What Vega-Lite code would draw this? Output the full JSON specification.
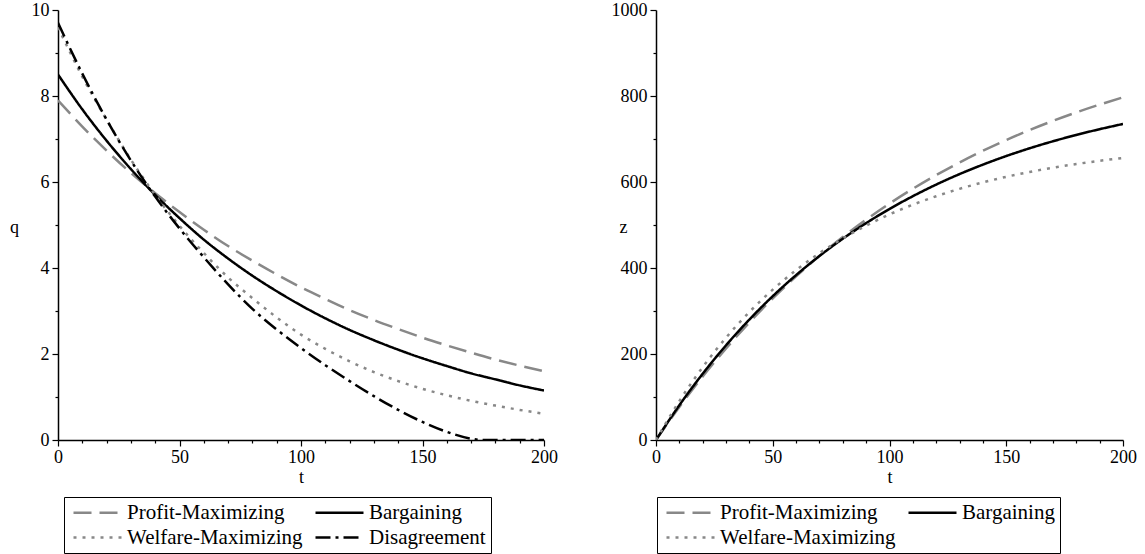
{
  "$schema": "https://vega.github.io/schema/vega-lite/v6.json",
  "padding": {"left": 9, "top": 1, "right": 5, "bottom": 0},
  "spacing": 53,
  "config": {
    "font": "'Liberation Serif'",
    "view": {"stroke": null},
    "axis": {"domainColor": "black", "domainWidth": 1.5, "tickColor": "black", "tickWidth": 1.2, "labelColor": "black", "labelFontSize": 18, "titleFontSize": 18, "titleFontWeight": "normal", "titleColor": "black", "grid": false, "labelFont": "'Liberation Serif'", "titleFont": "'Liberation Serif'", "labelOverlap": false, "labelFlush": false},
    "legend": {"labelFont": "'Liberation Serif'", "labelFontSize": 21, "labelColor": "black", "labelLimit": 0, "strokeColor": "black", "padding": 5, "rowPadding": 3, "columnPadding": 7, "labelOffset": 37, "symbolType": "M-1,0H7", "symbolSize": 144, "symbolStrokeWidth": 2.5}
  },
  "datasets": {
    "q": [
      {"t": 0, "s": "Profit-Maximizing", "v": 7.90}, {"t": 10, "s": "Profit-Maximizing", "v": 7.29}, {"t": 20, "s": "Profit-Maximizing", "v": 6.73}, {"t": 30, "s": "Profit-Maximizing", "v": 6.21}, {"t": 40, "s": "Profit-Maximizing", "v": 5.74}, {"t": 50, "s": "Profit-Maximizing", "v": 5.30}, {"t": 60, "s": "Profit-Maximizing", "v": 4.89}, {"t": 70, "s": "Profit-Maximizing", "v": 4.51}, {"t": 80, "s": "Profit-Maximizing", "v": 4.17}, {"t": 90, "s": "Profit-Maximizing", "v": 3.85}, {"t": 100, "s": "Profit-Maximizing", "v": 3.55}, {"t": 110, "s": "Profit-Maximizing", "v": 3.28}, {"t": 120, "s": "Profit-Maximizing", "v": 3.02}, {"t": 130, "s": "Profit-Maximizing", "v": 2.79}, {"t": 140, "s": "Profit-Maximizing", "v": 2.58}, {"t": 150, "s": "Profit-Maximizing", "v": 2.38}, {"t": 160, "s": "Profit-Maximizing", "v": 2.20}, {"t": 170, "s": "Profit-Maximizing", "v": 2.03}, {"t": 180, "s": "Profit-Maximizing", "v": 1.87}, {"t": 190, "s": "Profit-Maximizing", "v": 1.73}, {"t": 200, "s": "Profit-Maximizing", "v": 1.60},
      {"t": 0, "s": "Bargaining", "v": 8.50}, {"t": 10, "s": "Bargaining", "v": 7.69}, {"t": 20, "s": "Bargaining", "v": 6.96}, {"t": 30, "s": "Bargaining", "v": 6.30}, {"t": 40, "s": "Bargaining", "v": 5.70}, {"t": 50, "s": "Bargaining", "v": 5.16}, {"t": 60, "s": "Bargaining", "v": 4.66}, {"t": 70, "s": "Bargaining", "v": 4.22}, {"t": 80, "s": "Bargaining", "v": 3.82}, {"t": 90, "s": "Bargaining", "v": 3.46}, {"t": 100, "s": "Bargaining", "v": 3.13}, {"t": 110, "s": "Bargaining", "v": 2.83}, {"t": 120, "s": "Bargaining", "v": 2.56}, {"t": 130, "s": "Bargaining", "v": 2.32}, {"t": 140, "s": "Bargaining", "v": 2.10}, {"t": 150, "s": "Bargaining", "v": 1.90}, {"t": 160, "s": "Bargaining", "v": 1.72}, {"t": 170, "s": "Bargaining", "v": 1.55}, {"t": 180, "s": "Bargaining", "v": 1.41}, {"t": 190, "s": "Bargaining", "v": 1.27}, {"t": 200, "s": "Bargaining", "v": 1.15},
      {"t": 0, "s": "Welfare-Maximizing", "v": 9.60}, {"t": 10, "s": "Welfare-Maximizing", "v": 8.45}, {"t": 20, "s": "Welfare-Maximizing", "v": 7.45}, {"t": 30, "s": "Welfare-Maximizing", "v": 6.52}, {"t": 40, "s": "Welfare-Maximizing", "v": 5.70}, {"t": 50, "s": "Welfare-Maximizing", "v": 4.98}, {"t": 60, "s": "Welfare-Maximizing", "v": 4.35}, {"t": 70, "s": "Welfare-Maximizing", "v": 3.78}, {"t": 80, "s": "Welfare-Maximizing", "v": 3.30}, {"t": 90, "s": "Welfare-Maximizing", "v": 2.85}, {"t": 100, "s": "Welfare-Maximizing", "v": 2.45}, {"t": 110, "s": "Welfare-Maximizing", "v": 2.12}, {"t": 120, "s": "Welfare-Maximizing", "v": 1.83}, {"t": 130, "s": "Welfare-Maximizing", "v": 1.58}, {"t": 140, "s": "Welfare-Maximizing", "v": 1.37}, {"t": 150, "s": "Welfare-Maximizing", "v": 1.19}, {"t": 160, "s": "Welfare-Maximizing", "v": 1.04}, {"t": 170, "s": "Welfare-Maximizing", "v": 0.91}, {"t": 180, "s": "Welfare-Maximizing", "v": 0.80}, {"t": 190, "s": "Welfare-Maximizing", "v": 0.70}, {"t": 200, "s": "Welfare-Maximizing", "v": 0.61},
      {"t": 0, "s": "Disagreement", "v": 9.70}, {"t": 10, "s": "Disagreement", "v": 8.52}, {"t": 20, "s": "Disagreement", "v": 7.45}, {"t": 30, "s": "Disagreement", "v": 6.50}, {"t": 40, "s": "Disagreement", "v": 5.66}, {"t": 50, "s": "Disagreement", "v": 4.92}, {"t": 60, "s": "Disagreement", "v": 4.25}, {"t": 70, "s": "Disagreement", "v": 3.62}, {"t": 80, "s": "Disagreement", "v": 3.05}, {"t": 90, "s": "Disagreement", "v": 2.57}, {"t": 100, "s": "Disagreement", "v": 2.14}, {"t": 110, "s": "Disagreement", "v": 1.74}, {"t": 120, "s": "Disagreement", "v": 1.37}, {"t": 130, "s": "Disagreement", "v": 1.02}, {"t": 140, "s": "Disagreement", "v": 0.70}, {"t": 150, "s": "Disagreement", "v": 0.42}, {"t": 160, "s": "Disagreement", "v": 0.19}, {"t": 170, "s": "Disagreement", "v": 0.03}, {"t": 175, "s": "Disagreement", "v": 0}, {"t": 180, "s": "Disagreement", "v": 0}, {"t": 190, "s": "Disagreement", "v": 0}, {"t": 200, "s": "Disagreement", "v": 0}
    ],
    "z": [
      {"t": 0, "s": "Profit-Maximizing", "v": 0}, {"t": 10, "s": "Profit-Maximizing", "v": 76.7}, {"t": 20, "s": "Profit-Maximizing", "v": 147.6}, {"t": 30, "s": "Profit-Maximizing", "v": 213.0}, {"t": 40, "s": "Profit-Maximizing", "v": 273.5}, {"t": 50, "s": "Profit-Maximizing", "v": 329.2}, {"t": 60, "s": "Profit-Maximizing", "v": 380.5}, {"t": 70, "s": "Profit-Maximizing", "v": 428.1}, {"t": 80, "s": "Profit-Maximizing", "v": 471.9}, {"t": 90, "s": "Profit-Maximizing", "v": 512.4}, {"t": 100, "s": "Profit-Maximizing", "v": 549.8}, {"t": 110, "s": "Profit-Maximizing", "v": 584.3}, {"t": 120, "s": "Profit-Maximizing", "v": 616.1}, {"t": 130, "s": "Profit-Maximizing", "v": 645.4}, {"t": 140, "s": "Profit-Maximizing", "v": 672.6}, {"t": 150, "s": "Profit-Maximizing", "v": 697.7}, {"t": 160, "s": "Profit-Maximizing", "v": 720.8}, {"t": 170, "s": "Profit-Maximizing", "v": 742.1}, {"t": 180, "s": "Profit-Maximizing", "v": 761.9}, {"t": 190, "s": "Profit-Maximizing", "v": 780.0}, {"t": 200, "s": "Profit-Maximizing", "v": 796.8},
      {"t": 0, "s": "Bargaining", "v": 0}, {"t": 10, "s": "Bargaining", "v": 80.9}, {"t": 20, "s": "Bargaining", "v": 154.1}, {"t": 30, "s": "Bargaining", "v": 220.3}, {"t": 40, "s": "Bargaining", "v": 280.2}, {"t": 50, "s": "Bargaining", "v": 334.5}, {"t": 60, "s": "Bargaining", "v": 383.5}, {"t": 70, "s": "Bargaining", "v": 427.9}, {"t": 80, "s": "Bargaining", "v": 468.1}, {"t": 90, "s": "Bargaining", "v": 504.4}, {"t": 100, "s": "Bargaining", "v": 537.3}, {"t": 110, "s": "Bargaining", "v": 567.0}, {"t": 120, "s": "Bargaining", "v": 594.0}, {"t": 130, "s": "Bargaining", "v": 618.4}, {"t": 140, "s": "Bargaining", "v": 640.4}, {"t": 150, "s": "Bargaining", "v": 660.4}, {"t": 160, "s": "Bargaining", "v": 678.4}, {"t": 170, "s": "Bargaining", "v": 694.7}, {"t": 180, "s": "Bargaining", "v": 709.5}, {"t": 190, "s": "Bargaining", "v": 722.8}, {"t": 200, "s": "Bargaining", "v": 735.0},
      {"t": 0, "s": "Welfare-Maximizing", "v": 0}, {"t": 10, "s": "Welfare-Maximizing", "v": 90.5}, {"t": 20, "s": "Welfare-Maximizing", "v": 169.4}, {"t": 30, "s": "Welfare-Maximizing", "v": 238.0}, {"t": 40, "s": "Welfare-Maximizing", "v": 297.7}, {"t": 50, "s": "Welfare-Maximizing", "v": 349.7}, {"t": 60, "s": "Welfare-Maximizing", "v": 394.9}, {"t": 70, "s": "Welfare-Maximizing", "v": 434.4}, {"t": 80, "s": "Welfare-Maximizing", "v": 468.7}, {"t": 90, "s": "Welfare-Maximizing", "v": 498.5}, {"t": 100, "s": "Welfare-Maximizing", "v": 524.6}, {"t": 110, "s": "Welfare-Maximizing", "v": 547.2}, {"t": 120, "s": "Welfare-Maximizing", "v": 566.9}, {"t": 130, "s": "Welfare-Maximizing", "v": 584.1}, {"t": 140, "s": "Welfare-Maximizing", "v": 599.1}, {"t": 150, "s": "Welfare-Maximizing", "v": 612.1}, {"t": 160, "s": "Welfare-Maximizing", "v": 623.3}, {"t": 170, "s": "Welfare-Maximizing", "v": 633.2}, {"t": 180, "s": "Welfare-Maximizing", "v": 641.8}, {"t": 190, "s": "Welfare-Maximizing", "v": 649.3}, {"t": 200, "s": "Welfare-Maximizing", "v": 655.8}
    ]
  },
  "resolve": {"scale": {"color": "independent", "strokeDash": "independent"}, "legend": {"color": "independent", "strokeDash": "independent"}},
  "hconcat": [
    {
      "width": 486, "height": 430,
      "data": {"name": "q"},
      "mark": {"type": "line", "interpolate": "monotone", "strokeWidth": 2.5, "clip": true},
      "encoding": {
        "x": {"field": "t", "type": "quantitative", "scale": {"domain": [0, 200], "nice": false},
              "axis": {"title": "t", "values": [0,10,20,30,40,50,60,70,80,90,100,110,120,130,140,150,160,170,180,190,200], "labelExpr": "datum.value % 50 === 0 ? datum.label : ''", "tickSize": {"condition": {"test": "datum.value % 50 === 0", "value": 6}, "value": 3}, "labelPadding": 2, "titlePadding": 2}},
        "y": {"field": "v", "type": "quantitative", "scale": {"domain": [0, 10], "nice": false},
              "axis": {"title": "q", "values": [0,1,2,3,4,5,6,7,8,9,10], "labelExpr": "datum.value % 2 === 0 ? datum.label : ''", "tickSize": {"condition": {"test": "datum.value % 2 === 0", "value": 6}, "value": 3}, "labelPadding": 3, "titleAngle": 0, "titleX": -44, "titleY": 217, "titleAlign": "center", "titleBaseline": "middle"}},
        "color": {"field": "s", "type": "nominal", "scale": {"domain": ["Profit-Maximizing", "Welfare-Maximizing", "Bargaining", "Disagreement"], "range": ["#888888", "#888888", "#000000", "#000000"]},
                  "legend": {"title": null, "orient": "none", "legendX": 6, "legendY": 487, "columns": 2}},
        "strokeDash": {"field": "s", "type": "nominal", "scale": {"domain": ["Profit-Maximizing", "Welfare-Maximizing", "Bargaining", "Disagreement"], "range": [[18, 8], [3, 6], [1, 0], [15, 5, 3, 5]]},
                  "legend": {"title": null, "orient": "none", "legendX": 6, "legendY": 487, "columns": 2}}
      }
    },
    {
      "width": 467, "height": 430,
      "data": {"name": "z"},
      "mark": {"type": "line", "interpolate": "monotone", "strokeWidth": 2.5, "clip": true},
      "encoding": {
        "x": {"field": "t", "type": "quantitative", "scale": {"domain": [0, 200], "nice": false},
              "axis": {"title": "t", "values": [0,10,20,30,40,50,60,70,80,90,100,110,120,130,140,150,160,170,180,190,200], "labelExpr": "datum.value % 50 === 0 ? datum.label : ''", "tickSize": {"condition": {"test": "datum.value % 50 === 0", "value": 6}, "value": 3}, "labelPadding": 2, "titlePadding": 2}},
        "y": {"field": "v", "type": "quantitative", "scale": {"domain": [0, 1000], "nice": false},
              "axis": {"title": "z", "format": "d", "values": [0,100,200,300,400,500,600,700,800,900,1000], "labelExpr": "datum.value % 200 === 0 ? datum.label : ''", "tickSize": {"condition": {"test": "datum.value % 200 === 0", "value": 6}, "value": 3}, "labelPadding": 3, "titleAngle": 0, "titleX": -33, "titleY": 217, "titleAlign": "center", "titleBaseline": "middle"}},
        "color": {"field": "s", "type": "nominal", "scale": {"domain": ["Profit-Maximizing", "Welfare-Maximizing", "Bargaining"], "range": ["#888888", "#888888", "#000000"]},
                  "legend": {"title": null, "orient": "none", "legendX": 1, "legendY": 487, "columns": 2}},
        "strokeDash": {"field": "s", "type": "nominal", "scale": {"domain": ["Profit-Maximizing", "Welfare-Maximizing", "Bargaining"], "range": [[18, 8], [3, 6], [1, 0]]},
                  "legend": {"title": null, "orient": "none", "legendX": 1, "legendY": 487, "columns": 2}}
      }
    }
  ]
}
